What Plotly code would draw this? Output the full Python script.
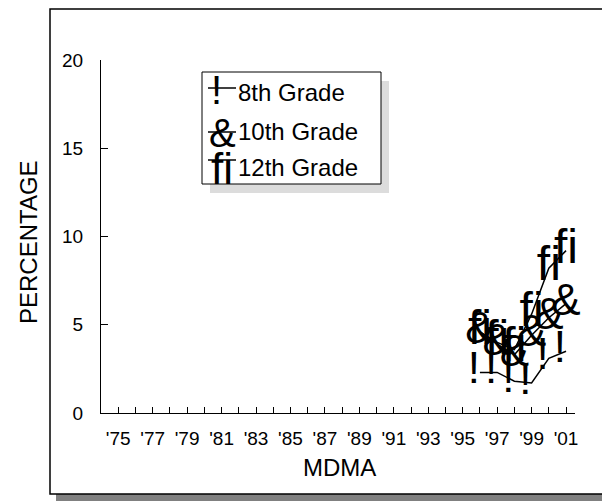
import plotly.graph_objects as go

years = [1996, 1997, 1998, 1999, 2000, 2001]
grade8 = [2.3, 2.3, 1.8, 1.7, 3.1, 3.5]
grade10 = [4.6, 3.9, 3.3, 4.4, 5.4, 6.2]
grade12 = [4.6, 4.0, 3.6, 5.6, 8.2, 9.2]
series_names = ["8th Grade", "10th Grade", "12th Grade"]
series_marks = ["!\u00a0", "&", "fi"]
mark_sizes = [44, 44, 48]
tick_years = list(range(1975, 2002))
tick_text = ["'%02d" % (y % 100) if y % 2 == 1 else "" for y in tick_years]

FONT = "Liberation Sans, Arial, sans-serif"
OFF = 8  # page body margin
W, H = 610 - OFF, 501 - OFF
L, R, T, B = 101, 575, 60, 413  # plot area in screen pixels


def px(x):
    return (x - L) / (R - L)


def py(y):
    return (B - y) / (B - T)


fig = go.Figure()
for name, vals, mark, ms in zip(series_names, [grade8, grade10, grade12], series_marks, mark_sizes):
    fig.add_trace(go.Scatter(
        x=years, y=vals, mode="lines+text", name=name,
        text=[mark] * len(years), textposition="middle center",
        textfont=dict(family=FONT, size=ms, color="black"),
        line=dict(color="black", width=1.5), showlegend=False,
        cliponaxis=False,
    ))

shapes = [
    dict(type="rect", xref="paper", yref="paper", x0=px(56), x1=px(612), y0=py(503), y1=py(494),
         fillcolor="#808080", line=dict(width=0), layer="below"),
    dict(type="rect", xref="paper", yref="paper", x0=px(50), x1=px(614), y0=py(494), y1=py(9),
         fillcolor="white", line=dict(color="black", width=1.5), layer="below"),
    dict(type="rect", xref="paper", yref="paper", x0=px(210), x1=px(389), y0=py(193), y1=py(81),
         fillcolor="#dcdcdc", line=dict(width=0)),
    dict(type="rect", xref="paper", yref="paper", x0=px(202), x1=px(381), y0=py(184), y1=py(72),
         fillcolor="white", line=dict(color="black", width=1)),
]

annotations = [
    dict(text="PERCENTAGE", xref="paper", yref="paper", x=px(28), y=py(242), textangle=-90,
         showarrow=False, xanchor="center", yanchor="middle", font=dict(family=FONT, size=24, color="black")),
    dict(text="MDMA", xref="paper", yref="paper", x=px(339), y=py(467),
         showarrow=False, xanchor="center", yanchor="middle", font=dict(family=FONT, size=24, color="black")),
]

leg_text_y = [92, 131, 167]
leg_mark_y = [90, 133, 168]
leg_line_y = [88, 132, 160]
for name, mark, ms, ty, my, ly in zip(series_names, series_marks, mark_sizes, leg_text_y, leg_mark_y, leg_line_y):
    shapes.append(dict(type="line", xref="paper", yref="paper", x0=px(208), x1=px(236), y0=py(ly), y1=py(ly),
                       line=dict(color="black", width=1.5)))
    annotations.append(dict(text=mark, xref="paper", yref="paper", x=px(222), y=py(my), showarrow=False,
                            xanchor="center", yanchor="middle", font=dict(family=FONT, size=ms - 4, color="black")))
    annotations.append(dict(text=name, xref="paper", yref="paper", x=px(236), y=py(ty), showarrow=False,
                            xanchor="left", yanchor="middle", font=dict(family=FONT, size=24, color="black")))

fig.update_layout(
    width=W, height=H, autosize=False,
    margin=dict(l=L - OFF, r=W - (R - OFF), t=T - OFF, b=H - (B - OFF), pad=0),
    paper_bgcolor="white", plot_bgcolor="rgba(0,0,0,0)",
    shapes=shapes, annotations=annotations,
    xaxis=dict(range=[1974.0, 2001.52], tickvals=tick_years, ticktext=tick_text,
               ticks="inside", ticklen=6, tickcolor="black", tickwidth=1,
               showline=True, linecolor="black", linewidth=1, showgrid=False, zeroline=False,
               tickfont=dict(family=FONT, size=19, color="black"), ticklabelstandoff=8),
    yaxis=dict(range=[0, 20], tickvals=[0, 5, 10, 15, 20],
               ticks="inside", ticklen=7, tickcolor="black", tickwidth=1,
               showline=True, linecolor="black", linewidth=1, showgrid=False, zeroline=False,
               tickfont=dict(family=FONT, size=19, color="black"), ticklabelstandoff=13),
)

fig.write_html("out.html")
